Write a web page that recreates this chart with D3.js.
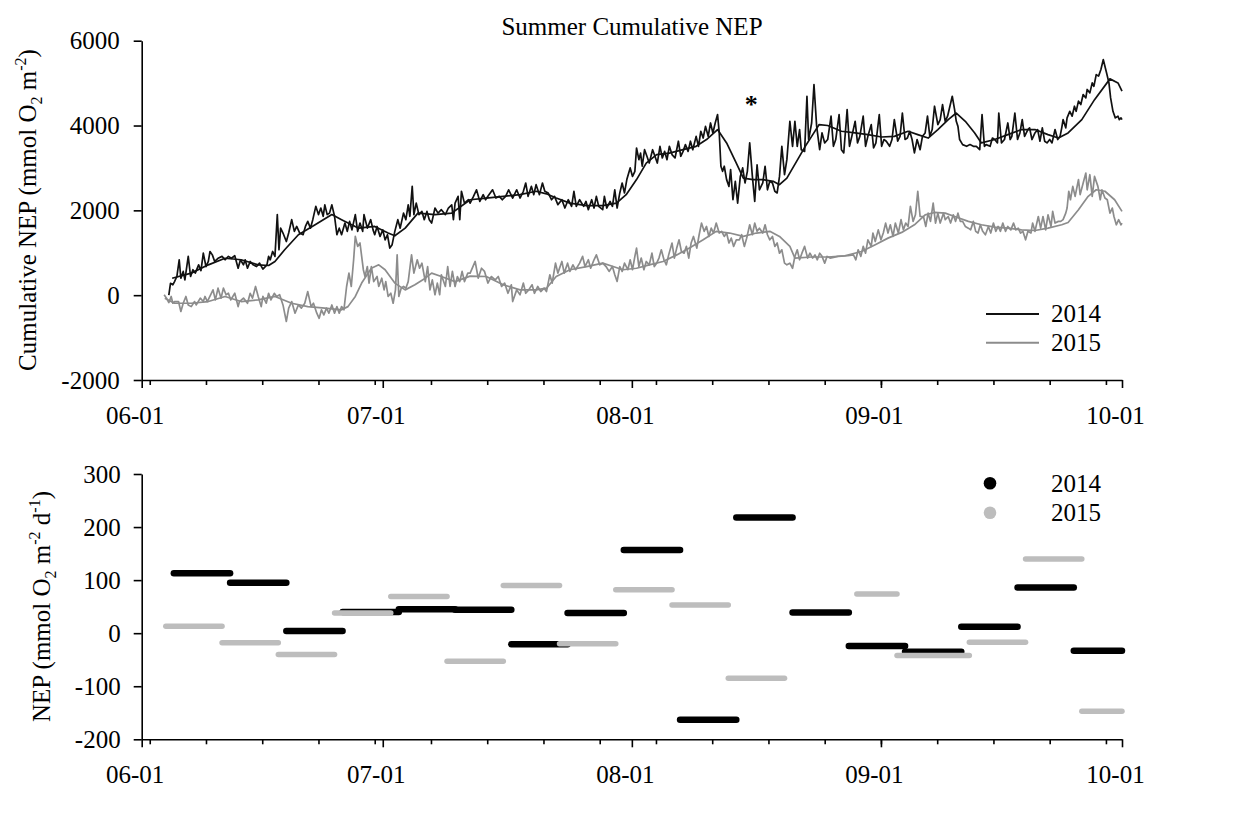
<!DOCTYPE html>
<html>
<head>
<meta charset="utf-8">
<script src="https://cdn.jsdelivr.net/npm/d3@7"></script>
<style>
  body { margin: 0; background: #fff; }
  svg text { font-family: "Liberation Serif", "Times New Roman", serif; fill: #000; }
</style>
</head>
<body>
<svg id="chart" width="1241" height="813"></svg>
<script>
// cumulative NEP, [days after June 1, mmol O2 m-2]
var raw2014 = [[3.4,0],[3.6,280],[3.9,245],[4.1,320],[4.4,440],[4.7,835],[4.9,400],[5.2,560],[5.4,360],[5.8,915],[6.1,440],[6.4,600],[6.7,520],[7.1,715],[7.4,580],[7.7,990],[8.0,675],[8.3,795],[8.5,1030],[8.8,950],[9.1,795],[9.5,870],[10.0,915],[10.4,835],[10.8,915],[11.2,870],[11.6,930],[12.0,635],[12.3,835],[12.7,715],[12.9,835],[13.2,635],[13.5,795],[13.9,715],[14.3,675],[14.7,755],[15.1,615],[15.6,715],[15.8,915],[16.0,835],[16.3,1030],[16.6,915],[16.9,1900],[17.1,1070],[17.3,1580],[17.6,1465],[18.0,1265],[18.3,1465],[18.7,1780],[19.0,1505],[19.3,1620],[19.7,1465],[20.1,1425],[20.4,1620],[20.7,1740],[21.0,1580],[21.3,1780],[21.7,2095],[22.0,1900],[22.3,2055],[22.6,1860],[22.8,2130],[23.1,1900],[23.4,1935],[23.7,2130],[24.0,1860],[24.3,1425],[24.6,1580],[24.9,1425],[25.3,1700],[25.6,1505],[25.9,1740],[26.2,1540],[26.6,1900],[26.9,1505],[27.2,1700],[27.5,1505],[27.7,1900],[28.1,1580],[28.5,1780],[28.8,1540],[29.0,1425],[29.3,1620],[29.7,1385],[30.0,1540],[30.3,1305],[30.6,1425],[30.9,1110],[31.2,1190],[31.5,1505],[31.9,1780],[32.2,1580],[32.6,1935],[32.9,1780],[33.2,2130],[33.4,1860],[33.7,2565],[33.9,1900],[34.2,2170],[34.5,1900],[34.9,1975],[35.2,1780],[35.5,1975],[35.8,1780],[36.1,1700],[36.5,2055],[36.9,1935],[37.3,2015],[37.8,1900],[38.2,2055],[38.6,2130],[38.8,1780],[39.0,2170],[39.4,2330],[39.6,1780],[39.8,2450],[40.2,2170],[40.7,2250],
  [40.9,2170],[41.3,2330],[41.7,2485],[42.1,2210],[42.5,2370],[42.8,2250],[43.1,2330],[43.7,2485],[44.1,2290],[44.5,2330],[44.9,2250],[45.3,2330],[45.7,2485],[46.2,2290],[46.7,2485],[47.1,2290],[47.5,2450],[47.8,2645],[48.1,2330],[48.5,2565],[48.8,2370],[49.1,2605],[49.5,2370],[49.9,2645],[50.2,2450],[50.6,2410],[51.0,2250],[51.4,2330],[51.8,2135],[52.3,2250],[52.7,2055],[53.1,2250],[53.5,2095],[53.8,2450],[54.1,2095],[54.5,2250],[55.0,2095],[55.3,2210],[55.6,2015],[56.0,2250],[56.3,2055],[56.6,2330],[56.9,2095],[57.4,2015],[57.6,2330],[57.9,2055],[58.3,2210],[58.6,2095],[58.9,2485],[59.2,2055],[59.5,2410],[59.8,2645],[60.1,2410],[60.4,2725],[60.8,3000],[61.1,2800],[61.4,2920],[61.6,3470],[61.9,3195],[62.1,3350],[62.3,3040],[62.6,3430],[62.9,3275],[63.2,3115],[63.6,3430],[63.9,3275],[64.2,3115],[64.5,3510],[64.8,3235],[65.1,3390],[65.4,3195],[65.7,3510],[66.0,3315],[66.4,3235],[66.8,3630],[67.1,3275],[67.4,3390],[67.7,3550],[68.0,3390],[68.3,3630],[68.6,3430],[69.0,3745],[69.3,3510],[69.6,3865],[69.9,3705],[70.2,3980],[70.5,3745],[70.8,4060],[71.1,3825],[71.4,4060],[71.7,4260],[71.9,3825],[72.1,3040],[72.3,2920],[72.5,3040],[72.8,2725],[73.1,2565],[73.3,2960],[73.6,2250],[73.9,2685],[74.2,2170],[74.5,2800],[74.8,3000],[75.1,2645],[75.4,2920],[75.7,3590],[76.0,2800],[76.3,2210],[76.6,3075],[76.9,2485],[77.3,2645],[77.6,3040],[77.9,2485],[78.2,2685],[78.5,2645],[78.8,2450],[79.1,2410],[79.4,2800],[79.7,3510],[80.0,2840],[80.3,3195],[80.7,4100],[81.0,3510],
  [81.3,4100],[81.6,3510],[81.9,3905],[82.1,3430],[82.5,3390],[82.8,4690],[83.0,3670],[83.4,4060],[83.7,4965],[84.0,3980],[84.4,3430],[84.7,3825],[85.0,3590],[85.4,3670],[85.8,4220],[86.1,3510],[86.4,3670],[86.8,4260],[87.1,3430],[87.4,3355],[87.8,4375],[88.1,3510],[88.4,3745],[88.8,4100],[89.1,3590],[89.4,3745],[89.8,4220],[90.1,3510],[90.4,3745],[90.8,4020],[91.1,3470],[91.4,3590],[91.8,4260],[92.1,3510],[92.4,3670],[92.7,3630],[93.1,3510],[93.4,3670],[93.7,4140],[94.1,3630],[94.4,3745],[94.7,4295],[95.0,3670],[95.3,3705],[95.6,3865],[95.9,3670],[96.2,3355],[96.5,3670],[96.9,3430],[97.2,3745],[97.5,3825],[97.8,4220],[98.1,3745],[98.4,3905],[98.7,4455],[99.1,4020],[99.4,4140],[99.7,4495],[100.0,4100],[100.3,4220],[100.6,4455],[100.9,4690],[101.2,4375],[101.4,4100],[101.6,3980],[101.8,3670],[102.2,3550],[102.7,3510],[103.1,3550],[103.5,3510],[103.9,3510],[104.3,3430],[104.6,4260],[104.9,3510],[105.1,3550],[105.6,3510],[105.9,3705],[106.2,3670],[106.5,3590],[106.7,4295],[107.0,3590],[107.4,3670],[107.8,4060],[108.1,3670],[108.3,3745],[108.7,4295],[109.0,3670],[109.3,3825],[109.6,4140],[109.9,3745],[110.3,3905],[110.5,3945],[110.8,3670],[111.2,3825],[111.5,3905],[111.8,3630],[112.1,3945],[112.4,3630],[112.7,3590],[113.0,3670],[113.3,3590],[113.7,3905],[114.0,3670],[114.3,3745],[114.5,3945],[114.7,4140],[115.0,3945],[115.2,4180],[115.5,4335],[115.8,4220],[116.1,4455],[116.3,4335],[116.6,4575],[116.9,4495],[117.2,4730],[117.5,4650],[117.7,4850],[118.0,4770],[118.3,5005],[118.5,4925],[118.8,5200],[119.1,5165],[119.4,5320],[119.7,5555],[120.1,5240],[120.4,5005],[120.6,4650],[120.9,4335],[121.2,4180],[121.5,4220],[121.7,4140],[121.9,4180],[122.0,4140]];

var raw2015 = [[2.8,10],[3.1,-70],[3.4,-175],[3.7,-30],[3.9,-190],[4.1,-150],[4.6,-150],[4.9,-385],[5.2,-190],[5.5,-30],[5.8,-230],[6.2,-270],[6.6,-150],[6.8,-230],[7.3,-70],[7.7,-150],[7.9,-30],[8.2,-150],[8.7,45],[8.9,125],[9.2,-110],[9.5,165],[9.9,-70],[10.2,165],[10.5,10],[10.8,45],[11.1,-110],[11.6,45],[12.0,-270],[12.2,-150],[12.7,-70],[13.2,-190],[13.5,45],[13.8,-70],[14.2,205],[14.5,-30],[14.9,-270],[15.1,-30],[15.5,-190],[15.8,45],[16.1,-110],[16.5,45],[16.8,-30],[17.2,10],[17.6,-230],[18.0,-620],[18.3,-305],[18.7,-150],[19.1,-425],[19.5,-230],[19.9,-305],[20.3,-190],[20.7,85],[21.1,-270],[21.4,-190],[21.8,-425],[22.1,-545],[22.4,-345],[22.7,-465],[23.0,-305],[23.3,-425],[23.7,-230],[24.0,-425],[24.3,-270],[24.6,-425],[24.9,-270],[25.2,-345],[25.5,205],[25.8,520],[26.1,205],[26.4,835],[26.6,1385],[26.9,1150],[27.2,1230],[27.4,915],[27.6,600],[27.8,440],[28.1,675],[28.3,285],[28.6,675],[28.9,320],[29.3,440],[29.5,205],[29.9,400],[30.2,125],[30.4,320],[30.7,-30],[31.0,45],[31.3,-190],[31.6,125],[31.8,950],[32.0,-30],[32.3,165],[32.6,205],[32.9,165],[33.2,320],[33.6,950],[33.9,520],[34.3,835],[34.6,635],[34.9,755],[35.3,320],[35.6,675],[35.9,125],[36.2,360],[36.5,10],[36.8,285],[37.1,10],[37.3,480],[37.8,205],[38.1,675],[38.4,205],[38.7,560],[39.0,205],[39.3,440],[39.6,320],[39.9,560],[40.2,320],[40.6,520],
  [40.9,520],[41.5,795],[41.9,400],[42.3,635],[42.7,560],[43.1,285],[43.5,440],[44.0,360],[44.4,440],[44.8,205],[45.2,285],[45.6,45],[46.0,245],[46.2,-150],[46.7,125],[47.1,10],[47.5,285],[47.8,45],[48.2,125],[48.6,245],[48.9,45],[49.3,205],[49.7,85],[50.1,165],[50.4,85],[50.8,480],[51.1,285],[51.5,755],[51.8,520],[52.3,795],[52.6,520],[53.0,755],[53.3,560],[53.7,715],[54.0,600],[54.5,755],[54.9,915],[55.2,675],[55.6,835],[55.9,635],[56.3,835],[56.6,950],[57.0,715],[57.4,755],[57.8,675],[58.2,560],[58.6,675],[58.9,480],[59.2,325],[59.5,675],[59.8,560],[60.1,755],[60.5,600],[60.8,835],[61.1,600],[61.4,915],[61.6,1110],[61.9,675],[62.2,875],[62.5,600],[62.8,795],[63.2,715],[63.5,990],[63.8,675],[64.1,755],[64.4,875],[64.7,1070],[65.0,835],[65.3,715],[65.6,950],[66.0,1230],[66.3,875],[66.6,1110],[66.9,1305],[67.2,1030],[67.5,990],[67.8,1150],[68.1,875],[68.4,1230],[68.7,1385],[69.1,1110],[69.4,1425],[69.7,1700],[70.0,1505],[70.3,1620],[70.6,1385],[70.9,1580],[71.2,1465],[71.5,1700],[71.9,1465],[72.2,1505],[72.5,1385],[72.8,1465],[73.1,1230],[73.4,1345],[73.7,1150],[74.0,1305],[74.4,1305],[74.7,1425],[75.0,1150],[75.3,1345],[75.7,1660],[76.0,1425],[76.3,1700],[76.6,1505],[76.9,1580],[77.3,1465],[77.6,1660],[77.9,1425],[78.2,1305],[78.5,1385],[78.8,1150],[79.1,1230],[79.4,990],[79.7,1070],[80.0,755],[80.3,715],[80.7,755],[81.0,635],
  [81.3,915],[81.6,1070],[81.9,835],[82.2,990],[82.5,1150],[82.9,875],[83.2,990],[83.5,875],[83.8,950],[84.1,835],[84.4,990],[84.7,915],[85.0,755],[85.3,915],[85.7,875],[86.7,915],[87.9,930],[88.6,950],[88.9,835],[89.2,1070],[89.5,915],[89.8,1150],[90.1,990],[90.4,1305],[90.8,1150],[91.0,1465],[91.3,1265],[91.7,1540],[92.0,1305],[92.3,1465],[92.6,1700],[92.9,1465],[93.2,1660],[93.5,1385],[93.8,1700],[94.2,1465],[94.5,1780],[94.8,1540],[95.1,1700],[95.4,1620],[95.7,2095],[96.0,1740],[96.3,1895],[96.6,2450],[96.9,1855],[97.3,1855],[97.6,1620],[97.9,1935],[98.2,1740],[98.5,2170],[98.8,1700],[99.1,1935],[99.4,1700],[99.8,1935],[100.0,1780],[100.4,1855],[100.7,1700],[101.0,1895],[101.3,1740],[101.6,1935],[101.9,1740],[102.2,1740],[102.5,1620],[102.9,1580],[103.2,1540],[103.5,1740],[103.8,1505],[104.1,1465],[104.4,1660],[104.7,1505],[105.0,1425],[105.4,1620],[105.7,1465],[106.0,1700],[106.3,1505],[106.6,1620],[106.9,1505],[107.2,1700],[107.5,1505],[107.8,1620],[108.2,1540],[108.5,1700],[108.8,1540],[109.1,1580],[109.4,1465],[109.7,1505],[110.0,1305],[110.3,1505],[110.7,1465],[110.9,1700],[111.2,1505],[111.6,1855],[111.9,1580],[112.2,1855],[112.5,1540],[112.8,1895],[113.2,1620],[113.4,1975],[113.7,1700],[114.1,1740],[114.4,1740],[114.7,1780],[115.0,1935],[115.2,2055],[115.4,2450],[115.6,2250],[115.9,2565],[116.2,2330],[116.6,2725],[116.8,2370],[117.2,2645],[117.5,2880],[117.7,2485],[118.0,2840],[118.3,2330],[118.6,2800],[119.0,2565],[119.3,2250],[119.5,2485],[119.9,2290],[120.2,2250],[120.5,1935],[120.8,2055],[121.0,1855],[121.3,1660],[121.6,1780],[121.9,1660],[122.0,1700]];

var smooth2014 = [[3.8,400],[6.2,520],[8.3,715],[10.4,870],[12.4,835],[14.5,715],[15.8,700],[16.6,795],[17.8,1070],[19.5,1425],[21.6,1660],[23.7,1900],[24.9,1780],[27.0,1580],[29.0,1620],[30.7,1465],[31.5,1400],[32.8,1580],[34.4,1935],[36.5,1900],[38.6,1935],[40.9,2250],[42.9,2290],[45.0,2330],[47.1,2370],[49.1,2450],[50.4,2390],[51.6,2290],[53.3,2170],[55.4,2110],[57.4,2110],[59.1,2170],[60.3,2370],[61.6,2725],[62.8,3115],[64.1,3315],[65.7,3350],[67.4,3430],[69.0,3510],[70.3,3670],[71.7,3905],[72.8,3590],[74.0,3115],[74.9,2760],[76.1,2725],[77.3,2725],[78.6,2685],[79.4,2605],[80.3,2760],[81.8,3250],[82.6,3510],[83.4,3745],[84.3,4020],[85.4,4000],[87.1,3865],[88.8,3825],[90.4,3785],[92.1,3730],[93.7,3745],[95.4,3865],[96.6,3785],[97.9,3705],[99.1,3905],[100.4,4140],[101.4,4295],[102.5,4100],[103.7,3825],[104.5,3590],[106.2,3670],[107.8,3785],[109.5,3905],[111.2,3905],[112.8,3785],[114.1,3705],[115.3,3825],[117.0,4140],[118.6,4610],[120.5,5100],[121.5,5005],[122.0,4810]];

var smooth2015 = [[2.9,-70],[4.1,-190],[6.2,-190],[8.3,-150],[10.4,-30],[12.4,-150],[14.5,-110],[16.6,-30],[18.7,-190],[20.7,-270],[22.8,-305],[24.9,-345],[25.7,-270],[26.6,-30],[27.4,285],[28.6,635],[29.5,715],[30.3,600],[31.5,285],[32.8,125],[34.0,245],[35.3,400],[36.1,520],[37.3,440],[39.0,320],[40.9,450],[42.9,440],[45.0,245],[47.1,125],[49.1,125],[50.4,165],[51.6,440],[53.3,600],[55.4,675],[57.4,755],[58.7,675],[59.9,600],[61.6,635],[63.2,715],[64.9,795],[66.6,950],[68.2,1110],[69.9,1305],[71.5,1505],[73.2,1465],[74.9,1385],[76.5,1465],[78.2,1505],[79.4,1385],[80.7,1150],[81.3,875],[83.4,900],[85.4,900],[87.5,930],[89.6,1030],[91.3,1190],[92.9,1345],[94.6,1480],[96.2,1660],[97.5,1895],[98.7,1950],[100.0,1935],[101.2,1855],[102.9,1740],[104.5,1660],[106.2,1605],[107.8,1580],[109.5,1540],[111.2,1525],[112.8,1580],[114.5,1660],[115.3,1715],[116.6,2015],[117.8,2330],[118.8,2485],[119.9,2450],[121.1,2250],[122.0,1975]];

// weekly NEP (mmol O2 m-2 d-1)
var weekStart2014 = ["06-05","06-12","06-19","06-26","07-03","07-10","07-17","07-24","07-31","08-07","08-14","08-21","08-28","09-04","09-11","09-18","09-25"];
var weekEnd2014   = ["06-12","06-19","06-26","07-03","07-10","07-17","07-24","07-31","08-07","08-14","08-21","08-28","09-04","09-11","09-18","09-25","10-01"];
var nep2014 = [113, 95, 4, 40, 45, 44, -21, 38, 157, -163, 218, 39, -24, -35, 12, 86, -33];

var weekStart2015 = ["06-04","06-11","06-18","06-25","07-02","07-09","07-16","07-23","07-30","08-06","08-13","08-29","09-03","09-12","09-19","09-26"];
var weekEnd2015   = ["06-11","06-18","06-25","07-02","07-09","07-16","07-23","07-30","08-06","08-13","08-20","09-03","09-12","09-19","09-26","10-01"];
var nep2015 = [13, -18, -40, 38, 69, -53, 90, -20, 82, 53, -85, 74, -42, -17, 140, -147];

var years = ["2014", "2015"];
var topTicks = [-2000, 0, 2000, 4000, 6000];
var bottomTicks = [-200, -100, 0, 100, 200, 300];

var svg = d3.select("#chart");
var start = new Date(2014, 5, 1), end = new Date(2014, 9, 1);
var parseMD = d3.timeParse("%Y-%m-%d");
function dayDate(d) { return d3.timeHour.offset(start, d * 24); }
function mdDate(s) { return parseMD("2014-" + s); }

var x = d3.scaleTime().domain([start, end]).range([141.7, 1122]);
var yTop = d3.scaleLinear().domain([-2000, 6000]).range([380, 40.7]);
var yBot = d3.scaleLinear().domain([-200, 300]).range([739.3, 474]);

var fs = "25px";

function styleAxis(g) {
  g.attr("font-family", null).attr("font-size", null);
  g.selectAll("path, line").attr("stroke", "#000").attr("stroke-width", 1.6);
  g.selectAll("text").style("font-size", fs);
}

function drawXAxis(yPos) {
  svg.append("g")
    .attr("transform", "translate(0," + yPos + ")")
    .call(d3.axisBottom(x).ticks(d3.timeMonday).tickSize(5).tickFormat("").tickSizeOuter(0))
    .call(styleAxis)
    .call(g => g.select(".domain").remove());
  svg.append("g")
    .attr("transform", "translate(0," + yPos + ")")
    .call(d3.axisBottom(x).tickValues(d3.timeMonth.range(start, d3.timeDay.offset(end, 1)))
      .tickFormat(d3.timeFormat("%m-%d")).tickSize(8).tickPadding(18).tickSizeOuter(0))
    .call(styleAxis)
    .call(g => g.selectAll("text").attr("x", -7));
}

function drawYAxis(scale, ticks, pad) {
  svg.append("g")
    .attr("transform", "translate(141.7,0)")
    .call(d3.axisLeft(scale).tickValues(ticks).tickFormat(d => String(d))
      .tickSize(8).tickPadding(pad).tickSizeOuter(0))
    .call(styleAxis);
}

// title
svg.append("text")
  .attr("x", 632).attr("y", 35)
  .attr("text-anchor", "middle")
  .style("font-size", fs)
  .text("Summer Cumulative NEP");

// ---- top panel ----
drawXAxis(380);
drawYAxis(yTop, topTicks, 14);

var lineTop = d3.line()
  .x(d => x(dayDate(d[0])))
  .y(d => yTop(d[1]));

var series = [
  {data: raw2015, color: "#8c8c8c"},
  {data: smooth2015, color: "#8c8c8c"},
  {data: raw2014, color: "#111"},
  {data: smooth2014, color: "#111"}
];
svg.selectAll(".cum")
  .data(series)
  .join("path")
    .attr("class", "cum")
    .attr("d", d => lineTop(d.data))
    .attr("fill", "none")
    .attr("stroke", d => d.color)
    .attr("stroke-width", 1.7)
    .attr("stroke-linejoin", "round");

svg.append("text")
  .attr("x", x(dayDate(75.9)))
  .attr("y", yTop(4613) + 13)
  .attr("text-anchor", "middle")
  .style("font-size", "26px")
  .style("font-weight", "bold")
  .text("*");

// legend top
var legTop = svg.append("g");
years.forEach(function(yr, i) {
  legTop.append("line")
    .attr("x1", 986).attr("x2", 1039)
    .attr("y1", 314 + i * 28.7).attr("y2", 314 + i * 28.7)
    .attr("stroke", i == 0 ? "#111" : "#8c8c8c")
    .attr("stroke-width", 2);
  legTop.append("text")
    .attr("x", 1051).attr("y", 322 + i * 28.7)
    .style("font-size", fs)
    .text(yr);
});

// rotated axis titles with sub/superscripts
function unitLabel(tx, ty, parts) {
  var t = svg.append("text")
    .attr("transform", "translate(" + tx + "," + ty + ") rotate(-90)")
    .attr("text-anchor", "middle")
    .style("font-size", fs);
  parts.forEach(function(p) {
    var s = t.append("tspan").text(p[0]);
    if (p[1] == "sub") s.attr("dy", 6).style("font-size", "16px");
    else if (p[1] == "sup") s.attr("dy", -10).style("font-size", "16px");
    if (p[2]) s.attr("dy", p[2]);
  });
  return t;
}
unitLabel(36, 210, [["Cumulative NEP (mmol O"], ["2", "sub"], [" m", null, -6], ["-2", "sup"], [")", null, 10]]);

// ---- bottom panel ----
drawXAxis(739.3);
drawYAxis(yBot, bottomTicks, 13);

unitLabel(50, 606.5, [["NEP (mmol O"], ["2", "sub"], [" m", null, -6], ["-2", "sup"], [" d", null, 10], ["-1", "sup"], [")", null, 10]]);

svg.selectAll(".w14")
  .data(nep2014)
  .join("line")
    .attr("class", "w14")
    .attr("x1", (d, i) => x(mdDate(weekStart2014[i])))
    .attr("x2", (d, i) => x(mdDate(weekEnd2014[i])))
    .attr("y1", d => yBot(d))
    .attr("y2", d => yBot(d))
    .attr("stroke", "#000")
    .attr("stroke-width", 6.5)
    .attr("stroke-linecap", "round");

svg.selectAll(".w15")
  .data(nep2015)
  .join("line")
    .attr("class", "w15")
    .attr("x1", (d, i) => x(mdDate(weekStart2015[i])))
    .attr("x2", (d, i) => x(mdDate(weekEnd2015[i])))
    .attr("y1", d => yBot(d))
    .attr("y2", d => yBot(d))
    .attr("stroke", "#bdbdbd")
    .attr("stroke-width", 5.5)
    .attr("stroke-linecap", "round");

// legend bottom
years.forEach(function(yr, i) {
  svg.append("circle")
    .attr("cx", 990).attr("cy", 483.3 + i * 29.4)
    .attr("r", 6.3)
    .attr("fill", i == 0 ? "#000" : "#bdbdbd");
  svg.append("text")
    .attr("x", 1051).attr("y", 491.5 + i * 29.4)
    .style("font-size", fs)
    .text(yr);
});
</script>
</body>
</html>
